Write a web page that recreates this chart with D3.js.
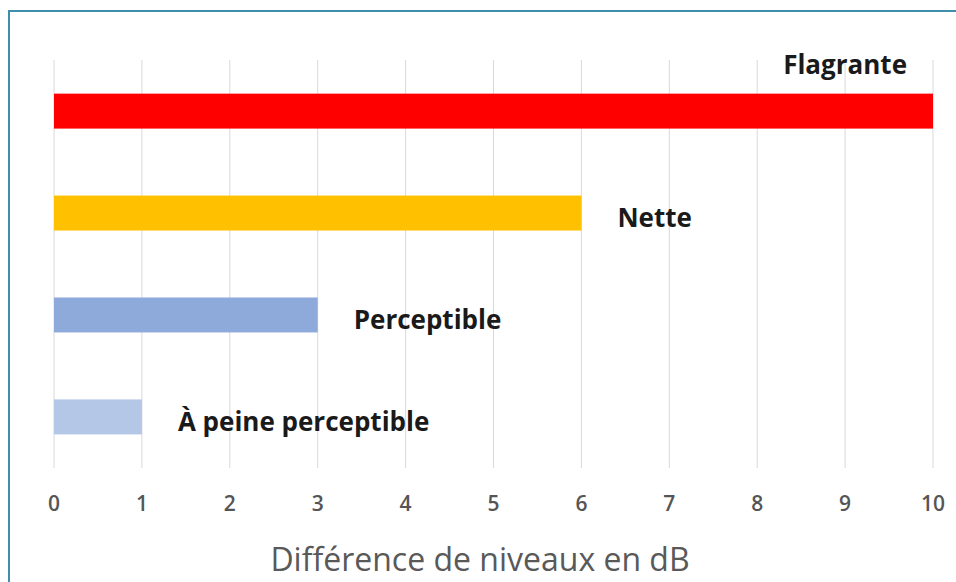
<!DOCTYPE html>
<html>
<head>
<meta charset="utf-8">
<script src="https://cdn.jsdelivr.net/npm/d3@7"></script>
<style>
  body { margin: 0; background: #fff; }
  svg { display: block; }
</style>
</head>
<body>
<svg></svg>
<script>
// Chart data
var categories = ["Flagrante", "Nette", "Perceptible", "À peine perceptible"];
var values = [10, 6, 3, 1];
var barColors = ["#ff0000", "#ffc000", "#8eaadb", "#b4c7e7"];
var ticks = [0, 1, 2, 3, 4, 5, 6, 7, 8, 9, 10];
var axisTitle = "Différence de niveaux en dB";

var w = 956;
var h = 582;
var margin = { top: 60, right: 23, bottom: 114, left: 54 };

var svg = d3.select("svg")
    .attr("width", w)
    .attr("height", h);

// Frame around the chart
svg.append("path")
    .attr("d", "M9,582 L9,11 L956,11")
    .attr("fill", "none")
    .attr("stroke", "#3f8fac")
    .attr("stroke-width", 2);

var x = d3.scaleLinear()
    .domain([0, 10])
    .range([margin.left, w - margin.right]);

var y = d3.scaleBand()
    .domain(categories)
    .range([margin.top, h - margin.bottom])
    .paddingInner(0.657)
    .paddingOuter(0.33);

// Vertical gridlines
svg.append("g")
    .selectAll("line")
    .data(ticks)
    .enter().append("line")
    .attr("x1", d => x(d))
    .attr("x2", d => x(d))
    .attr("y1", margin.top)
    .attr("y2", h - margin.bottom)
    .attr("stroke", "#d9d9d9")
    .attr("stroke-width", 1);

// Bars
svg.append("g")
    .selectAll("rect")
    .data(categories)
    .enter().append("rect")
    .attr("x", x(0))
    .attr("y", d => y(d))
    .attr("width", (d, i) => x(values[i]) - x(0))
    .attr("height", y.bandwidth())
    .attr("fill", (d, i) => barColors[i]);

// Labels: the longest bar gets its label above the right end
var maxVal = d3.max(values);
svg.append("g")
    .selectAll("text")
    .data(categories)
    .enter().append("text")
    .attr("x", (d, i) => values[i] === maxVal ? x(values[i]) - 26 : x(values[i]) + 36)
    .attr("y", (d, i) => values[i] === maxVal ? y(d) - 29 : y(d) + y.bandwidth() / 2 + 5)
    .attr("dy", "0.35em")
    .attr("text-anchor", (d, i) => values[i] === maxVal ? "end" : "start")
    .style("font-family", "'Open Sans', sans-serif")
    .style("font-weight", "bold")
    .style("font-size", "26px")
    .style("fill", "#1a1a1a")
    .text(d => d);

// Tick labels
svg.append("g")
    .selectAll("text")
    .data(ticks)
    .enter().append("text")
    .attr("x", d => x(d))
    .attr("y", 504)
    .attr("dy", "0.35em")
    .attr("text-anchor", "middle")
    .style("font-family", "'Open Sans', sans-serif")
    .style("font-weight", "600")
    .style("font-size", "21px")
    .style("fill", "#555")
    .text(d => d);

// Axis title
svg.append("text")
    .attr("x", 480)
    .attr("y", 560)
    .attr("dy", "0.35em")
    .attr("text-anchor", "middle")
    .style("font-family", "'Open Sans', sans-serif")
    .style("font-size", "32px")
    .style("fill", "#595959")
    .text(axisTitle);
</script>
</body>
</html>
